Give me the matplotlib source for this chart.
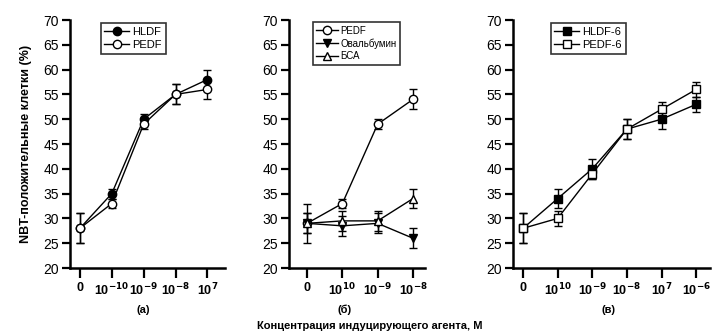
import matplotlib
matplotlib.use("Agg")
import matplotlib.pyplot as plt
from matplotlib.lines import Line2D

plt.rcParams['font.family'] = ['Liberation Sans', 'DejaVu Sans']
plt.rcParams['mathtext.default'] = 'bf'

# Panel (a)
a_labels = ["0", "10$^{-10}$", "10$^{-9}$", "10$^{-8}$", "10$^{7}$"]
a_hldf = [28, 35, 50, 55, 58]
a_hldf_err = [3, 1, 1, 2, 2]
a_pedf = [28, 33, 49, 55, 56]
a_pedf_err = [3, 1, 1, 2, 2]

# Panel (б)
b_labels = ["0", "10$^{10}$", "10$^{-9}$", "10$^{-8}$"]
b_pedf = [29, 33, 49, 54]
b_pedf_err = [4, 1, 1, 2]
b_ova = [29, 28.5, 29, 26]
b_ova_err = [2, 2, 2, 2]
b_bsa = [29, 29.5, 29.5, 34]
b_bsa_err = [2, 2, 2, 2]

# Panel (в)
c_labels = ["0", "10$^{10}$", "10$^{-9}$", "10$^{-8}$", "10$^{7}$", "10$^{-6}$"]
c_hldf6 = [28, 34, 40, 48, 50, 53]
c_hldf6_err = [3, 2, 2, 2, 2, 1.5]
c_pedf6 = [28, 30, 39, 48, 52, 56]
c_pedf6_err = [3, 1.5, 1, 2, 1.5, 1.5]

W, H = 712, 333
fig = plt.figure(figsize=(W/100, H/100), dpi=100)

def make_ax(l, r, xlim):
    ax = fig.add_axes([l/W, 1-268/H, (r-l)/W, (268-20)/H])
    ax.set_ylim(20, 70)
    ax.set_xlim(*xlim)
    ax.spines['top'].set_visible(False)
    ax.spines['right'].set_visible(False)
    ax.spines['left'].set_linewidth(1.8)
    ax.spines['bottom'].set_linewidth(1.8)
    ax.set_yticks(range(20, 71, 5))
    ax.tick_params(axis='y', direction='out', length=6, width=1.6, labelsize=10, pad=2)
    ax.tick_params(axis='x', direction='out', length=7, width=1.6, labelsize=9, pad=3)
    return ax

MS = 6
eb = dict(capsize=3, elinewidth=1.0, capthick=1.0, lw=1.0, color='black', ms=MS, mec='black')

def handle(marker, fill, label):
    return Line2D([], [], color='black', lw=1.0, marker=marker, mfc=fill, mec='black',
                  ms=MS, label=label)

legkw = dict(frameon=True, fancybox=False, edgecolor='black', handlelength=2.2,
             handletextpad=0.3, borderpad=0.35, labelspacing=0.25)

def sublabel(ax, xf, txt):
    ax.text(xf, -42/248, txt, transform=ax.transAxes, ha='center', va='center',
            fontsize=8, fontweight='bold')

ax1 = make_ax(70, 225, (-0.31, 4.55))
x = range(len(a_labels))
ax1.errorbar(x, a_hldf, yerr=a_hldf_err, marker='o', mfc='black', **eb)
ax1.errorbar(x, a_pedf, yerr=a_pedf_err, marker='o', mfc='white', **eb)
ax1.set_xticks(list(x))
ax1.set_xticklabels(a_labels, fontweight='bold')
ax1.set_ylabel("NBT-положительные клетки (%)", fontsize=9, fontweight='bold', labelpad=8)
sublabel(ax1, (143 - 70) / 155, "(a)")
l1 = ax1.legend(handles=[handle('o', 'black', 'HLDF'), handle('o', 'white', 'PEDF')],
                loc='upper left', bbox_to_anchor=(25/155, 1.01), fontsize=8, **legkw)

ax2 = make_ax(289, 425, (-0.51, 3.34))
x = range(len(b_labels))
ax2.errorbar(x, b_pedf, yerr=b_pedf_err, marker='o', mfc='white', **eb)
ax2.errorbar(x, b_ova, yerr=b_ova_err, marker='v', mfc='black', **eb)
ax2.errorbar(x, b_bsa, yerr=b_bsa_err, marker='^', mfc='white', **eb)
ax2.set_xticks(list(x))
ax2.set_xticklabels(b_labels, fontweight='bold')
sublabel(ax2, (345 - 289) / 136, "(б)")
l2 = ax2.legend(handles=[handle('o', 'white', 'PEDF'), handle('v', 'black', 'Овальбумин'),
                         handle('^', 'white', 'БСА')],
                loc='upper left', bbox_to_anchor=(19/136, 1.01), fontsize=7, **legkw)

ax3 = make_ax(513, 710, (-0.29, 5.4))
x = range(len(c_labels))
ax3.errorbar(x, c_hldf6, yerr=c_hldf6_err, marker='s', mfc='black', **eb)
ax3.errorbar(x, c_pedf6, yerr=c_pedf6_err, marker='s', mfc='white', **eb)
ax3.set_xticks(list(x))
ax3.set_xticklabels(c_labels, fontweight='bold')
sublabel(ax3, (609 - 513) / 197, "(в)")
l3 = ax3.legend(handles=[handle('s', 'black', 'HLDF-6'), handle('s', 'white', 'PEDF-6')],
                loc='upper left', bbox_to_anchor=(32/197, 1.01), fontsize=8, **legkw)

for l in (l1, l2, l3):
    l.get_frame().set_linewidth(1.2)

fig.text(370/W, 1-326/H, "Концентрация индуцирующего агента, М", ha='center', va='center',
         fontsize=8, fontweight='bold')

fig.savefig("out.png", dpi=100)
